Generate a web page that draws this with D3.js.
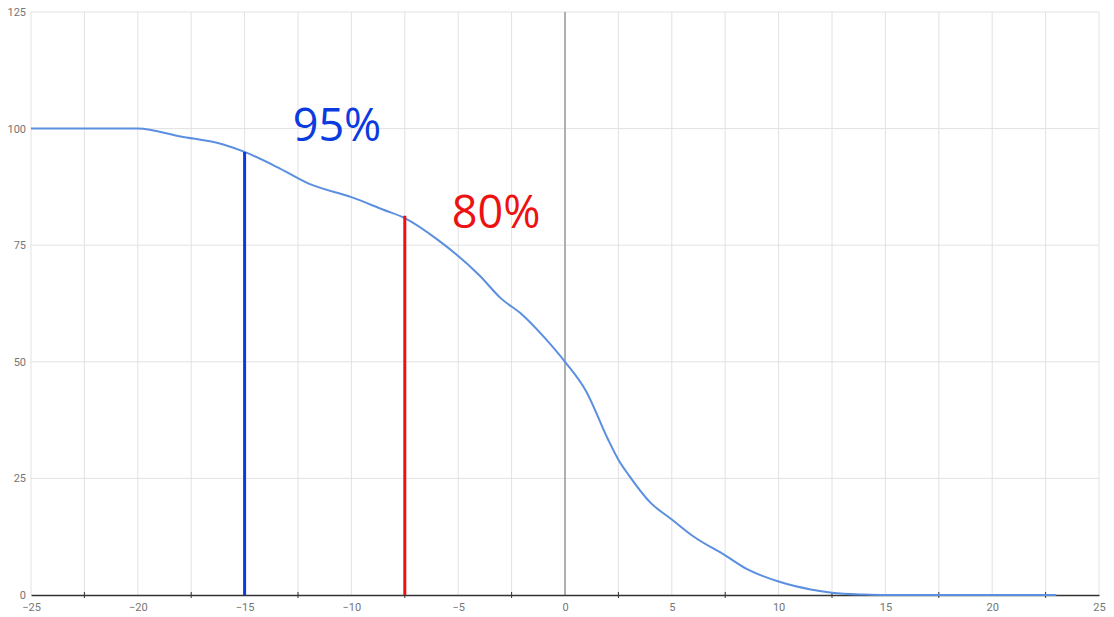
<!DOCTYPE html>
<html><head><meta charset="utf-8">
<script src="https://cdn.jsdelivr.net/npm/d3@7"></script>
<style>body{margin:0;background:#fff}svg{display:block}</style>
</head><body>
<script>
const xValues = [-25,-20,-18,-16,-15,-13.5,-12,-10,-8.5,-7.5,-6,-4,-3,-2,-1,0,1,2,2.5,3,4,5,6,7.5,8.5,10,11.5,12.5,14,15,23];
const yValues = [100,100,98.3,96.6,95,91.8,88.2,85.3,82.6,80.8,76.3,68.5,63.6,60.1,55.4,50,43.6,33.5,29,25.6,19.8,16.2,12.6,8.5,5.6,2.9,1.2,0.5,0.1,0,0];
const xTicks = [-25,-20,-15,-10,-5,0,5,10,15,20,25];
const yTicks = [0,25,50,75,100,125];
const markers = [{x:-15, y:95, label:"95%", color:"#0a3be0", lx:-12.75, ly:100}, {x:-7.5, y:81.3, label:"80%", color:"#ee1111", lx:-5.3, ly:81.3}];

const W = 1114, H = 617;
const m = {left:31, right:15, top:12, bottom:22};
const svg = d3.select("body").append("svg").attr("width", W).attr("height", H);
const x = d3.scaleLinear().domain([-25,25]).range([m.left, W - m.right]);
const y = d3.scaleLinear().domain([0,125]).range([H - m.bottom, m.top]);

const vgrid = d3.range(-25, 25.01, 2.5);
svg.append("g").selectAll("line").data(vgrid).join("line")
  .attr("x1", d => x(d)).attr("x2", d => x(d))
  .attr("y1", y(125)).attr("y2", y(0))
  .attr("stroke", "#e2e2e2").attr("stroke-width", 1);
svg.append("g").selectAll("line").data(yTicks.filter(d => d > 0)).join("line")
  .attr("x1", x(-25)).attr("x2", x(25))
  .attr("y1", d => y(d)).attr("y2", d => y(d))
  .attr("stroke", "#e2e2e2").attr("stroke-width", 1);
svg.append("line").attr("x1", x(0)).attr("x2", x(0)).attr("y1", y(125)).attr("y2", y(0))
  .attr("stroke", "#9a9a9a").attr("stroke-width", 1.5);

const yAxis = d3.axisLeft(y).tickValues(yTicks).tickSize(0).tickPadding(5);
const gy = svg.append("g").attr("transform", `translate(${x(-25)},0)`).call(yAxis);
gy.select(".domain").remove();
gy.selectAll("text").attr("fill", "#757575").style("font-family", "Roboto, sans-serif").style("font-size", "11px");

const xAxis = d3.axisBottom(x).tickValues(xTicks).tickSize(0).tickPadding(8);
const gx = svg.append("g").attr("transform", `translate(0,${y(0)})`).call(xAxis);
gx.select(".domain").attr("stroke", "#333").attr("stroke-width", 1.5);
gx.selectAll("text").attr("fill", "#757575").style("font-family", "Roboto, sans-serif").style("font-size", "11px");
const minor = d3.range(-22.5, 25, 5);
svg.append("g").selectAll("line").data(minor).join("line")
  .attr("x1", d => x(d)).attr("x2", d => x(d))
  .attr("y1", y(0) - 3).attr("y2", y(0) + 3)
  .attr("stroke", "#333").attr("stroke-width", 1);

const data = xValues.map((v, i) => [v, yValues[i]]);
const line = d3.line().x(d => x(d[0])).y(d => y(d[1])).curve(d3.curveMonotoneX);
svg.append("path").datum(data).attr("d", line)
  .attr("fill", "none").attr("stroke", "#5b8fe0").attr("stroke-width", 2);

markers.forEach(mk => {
  svg.append("line").attr("x1", x(mk.x)).attr("x2", x(mk.x)).attr("y1", y(0)).attr("y2", y(mk.y))
    .attr("stroke", mk.color).attr("stroke-width", 3);
  svg.append("text").attr("x", x(mk.lx)).attr("y", y(mk.ly) + 12)
    .attr("fill", mk.color).style("font-family", "'Open Sans', sans-serif").style("font-size", "45px")
    .text(mk.label);
});
</script>
</body></html>
